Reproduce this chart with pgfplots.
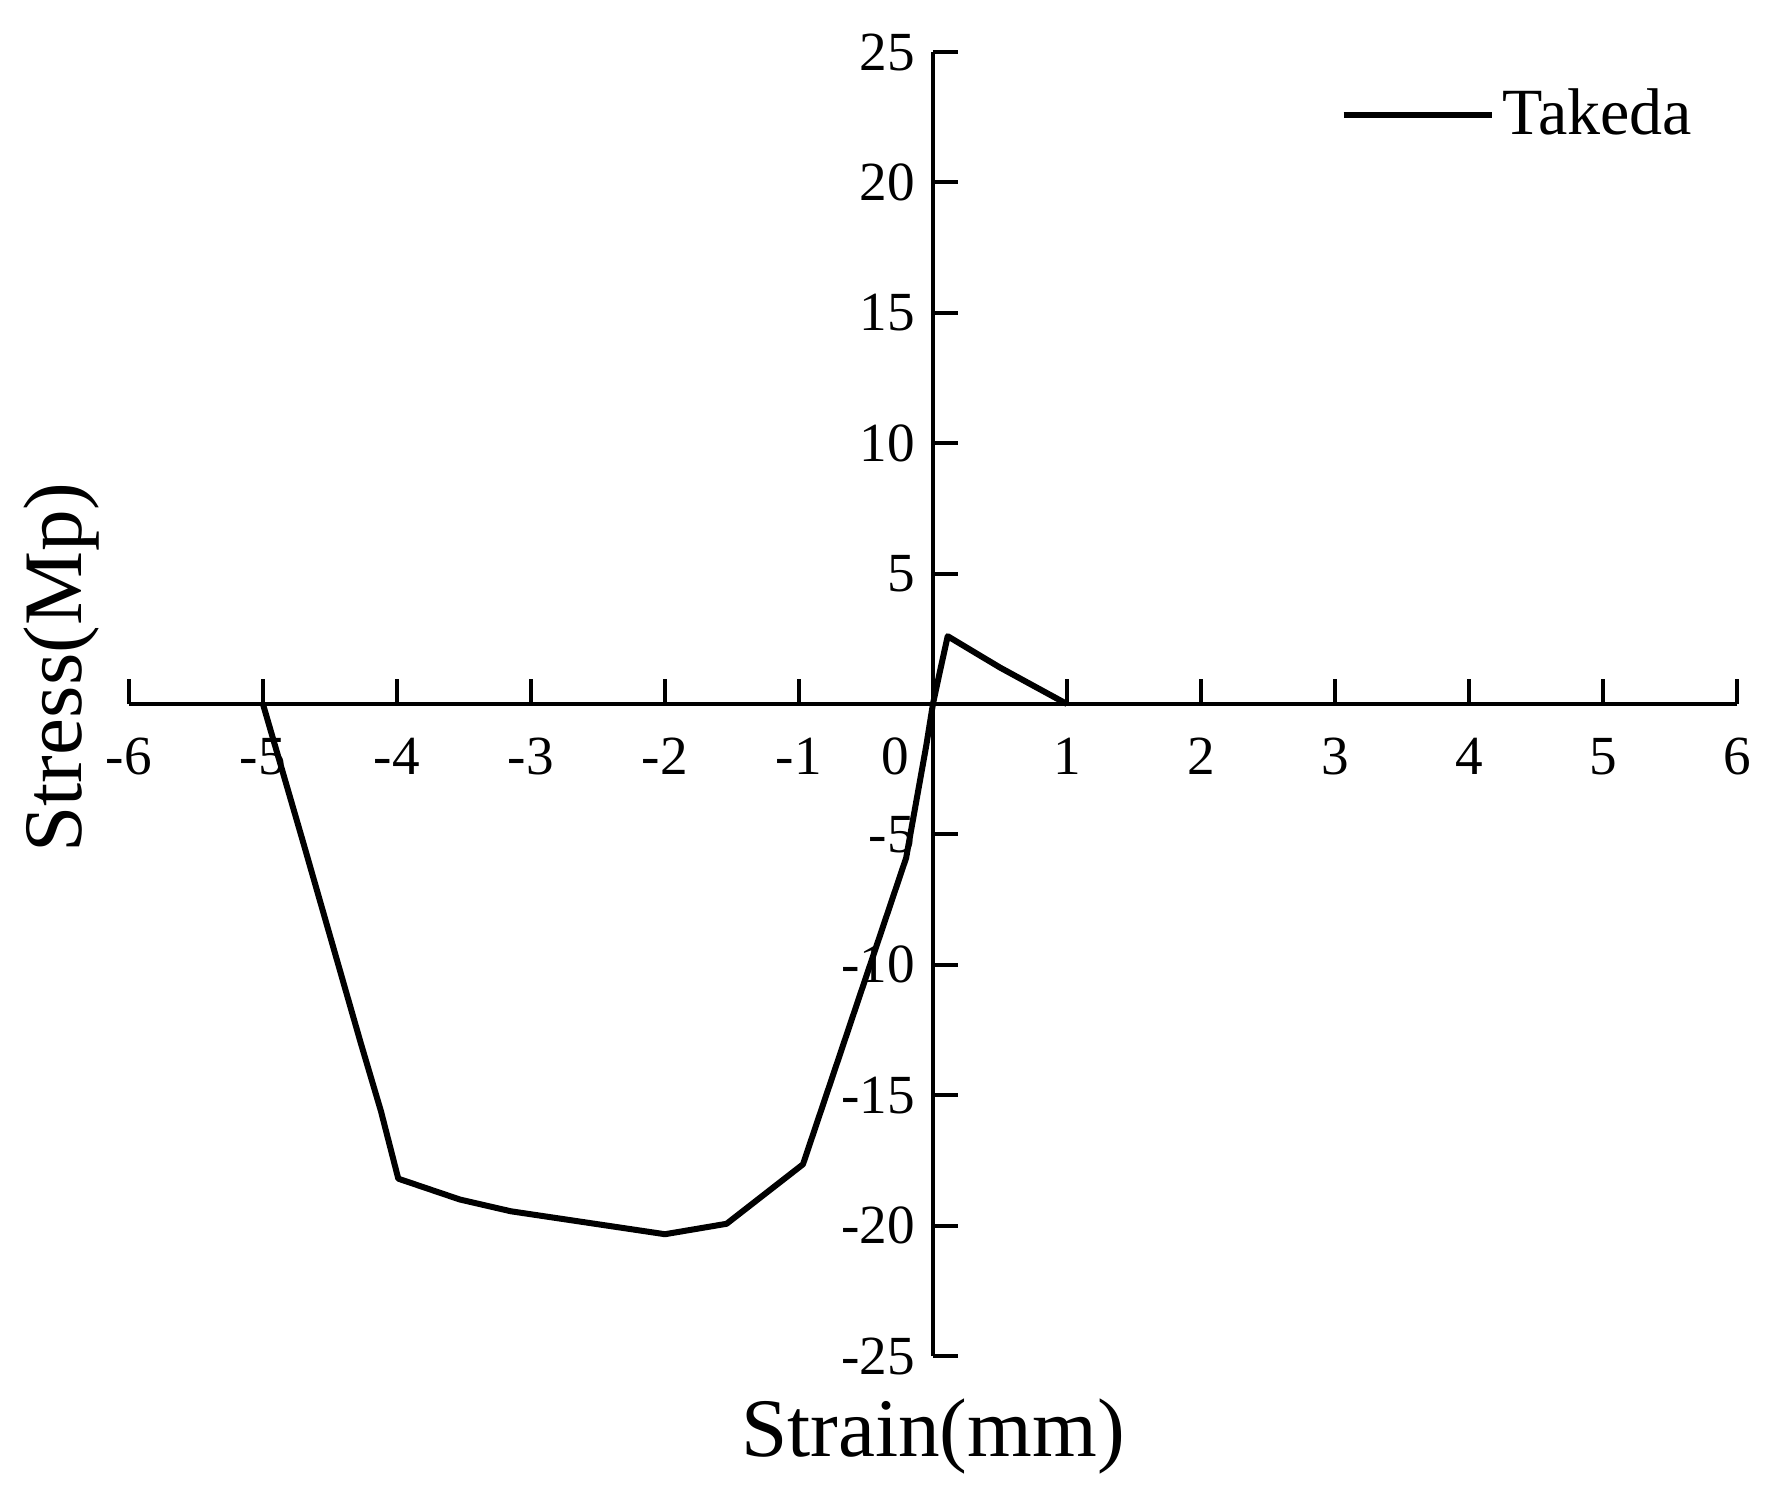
\documentclass[border=0pt]{standalone}
\usepackage{fontspec}
\setmainfont{Liberation Serif}
\usepackage{pgfplots}
\pgfplotsset{compat=1.18}

\begin{document}
\begin{tikzpicture}
\begin{axis}[
    width=402pt, height=326pt,
    scale only axis,
    clip=false,
    axis lines=middle,
    axis line style={-, line width=1pt},
    xmin=-6, xmax=6,
    ymin=-25, ymax=25,
    enlargelimits=false,
    xtick={-6,-5,-4,-3,-2,-1,1,2,3,4,5,6},
    ytick={-25,-20,-15,-10,-5,5,10,15,20,25},
    tick align=inside,
    major tick length=6.25pt,
    tick style={line width=1pt, black},
    /pgf/number format/assume math mode=true,
    tick label style={font=\fontsize{13.8}{14}\selectfont},
    xticklabel style={yshift=-5pt},
    yticklabel style={xshift=-1pt},
    xlabel={Strain(mm)},
    ylabel={Stress(Mp)},
    xlabel style={font=\fontsize{20.8}{22}\selectfont, at={(axis description cs:0.5,-0.022)}, anchor=north},
    ylabel style={font=\fontsize{20.8}{22}\selectfont, at={(axis description cs:-0.042,0.528)}, anchor=center, rotate=90},
    legend style={draw=none, fill=none, at={(axis description cs:0.753,0.952)}, anchor=west,
        font=\fontsize{16.5}{18}\selectfont, inner sep=0pt},
    legend image code/.code={\draw[#1] (0pt,0pt) -- (37pt,0pt);},
    legend cell align=left,
]
\addplot[black, line width=1.5pt, line join=round] coordinates {
    (-5,0) (-4.7,-5.3) (-4.27,-13) (-4.12,-15.6) (-3.99,-18.2)
    (-3.53,-19.0) (-3.15,-19.45) (-2,-20.33) (-1.54,-19.93) (-0.97,-17.65)
    (-0.2,-5.9) (-0.05,-1.6) (0,0) (0.05,1.2) (0.11,2.6) (0.5,1.4) (1,0)
};
\addlegendentry{Takeda}
\node[font=\fontsize{13.8}{14}\selectfont, anchor=north] at (axis cs:-0.28,0) [yshift=-5pt] {0};
\path (axis description cs:-0.0802,-0.1074) rectangle (axis description cs:1.0243,1.0399);
\end{axis}
\end{tikzpicture}
\end{document}
